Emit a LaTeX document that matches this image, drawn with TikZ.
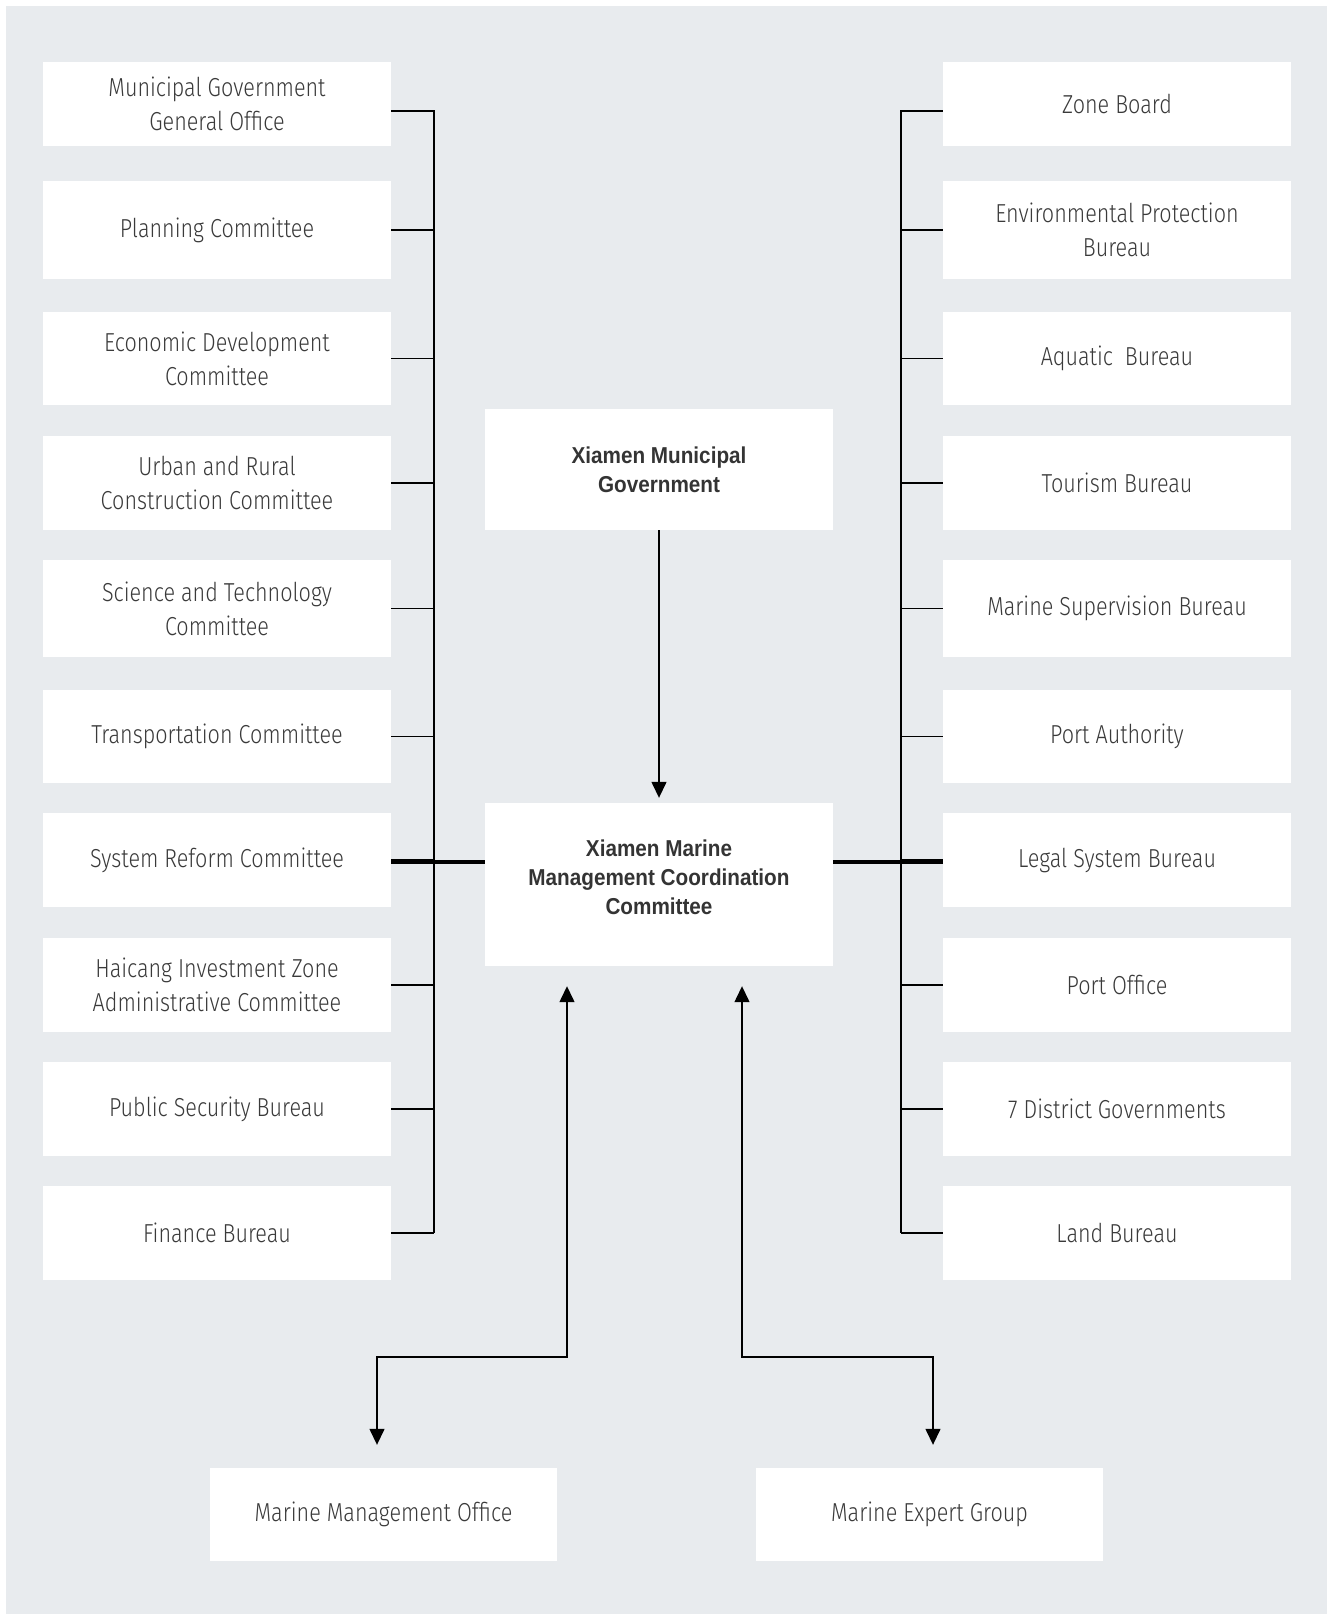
\documentclass[tikz,border=0pt]{standalone}
\usepackage{fontspec}
\setmainfont{Fira Sans Light}[FakeStretch=0.83]
\newfontfamily\headfont{Liberation Sans}[FakeStretch=0.9]
\usetikzlibrary{arrows.meta}
\definecolor{panel}{HTML}{E8EBEE}
\definecolor{ink}{HTML}{3A3A3A}

\begin{document}
\begin{tikzpicture}
        [x=1pt, y=-1pt,
        %%%%%%%%%%%%%%%%%%%%%%%%%%%%%%
        unit/.style={fill=white, text=ink, minimum width=348pt, inner sep=0pt,
          align=center, font=\fontsize{26}{34}\selectfont},
        headbox/.style={unit, font=\headfont\bfseries\fontsize{23}{29}\selectfont, text=ink!90!black},
        link/.style={line width=1.4pt},
        bus/.style={line width=3.4pt},
        flow/.style={link, -{Triangle[width=15pt,length=16pt]}},
        twoway/.style={link, {Triangle[width=15pt,length=16pt]}-{Triangle[width=15pt,length=16pt]}},
        ]%%%%%%%%%%%%%%%%%%%%%%%%%%%%%%
        \useasboundingbox (0,0) rectangle (1329,1614);
        \fill[panel] (6,6) rectangle (1327,1614);
        % left column
        \foreach \id/\yc/\hgt/\txt in {
            1/104/84/{Municipal Government\\General Office},
            2/230/98/{Planning Committee},
            3/358.5/93/{Economic Development\\Committee},
            4/483/94/{Urban and Rural\\Construction Committee},
            5/608.5/97/{Science and Technology\\Committee},
            6/736.5/93/{Transportation Committee},
            7/860/94/{System Reform Committee},
            8/985/94/{Haicang Investment Zone\\Administrative Committee},
            9/1109/94/{Public Security Bureau},
            10/1233/94/{Finance Bureau}}{
          \node[unit, minimum height=\hgt pt] (l\id) at (217,\yc) {\txt};
        }
        % right column
        \foreach \id/\yc/\hgt/\txt in {
            1/104/84/{Zone Board},
            2/230/98/{Environmental Protection\\Bureau},
            3/358.5/93/{Aquatic\ \ Bureau},
            4/483/94/{Tourism Bureau},
            5/608.5/97/{Marine Supervision Bureau},
            6/736.5/93/{Port Authority},
            7/860/94/{Legal System Bureau},
            8/985/94/{Port Office},
            9/1109/94/{7 District Governments},
            10/1233/94/{Land Bureau}}{
          \node[unit, minimum height=\hgt pt] (r\id) at (1117,\yc) {\txt};
        }
        % centre
        \node[unit, minimum height=121pt] (gov) at (659,469.5) {};
        \node[headbox, fill=none] (govtext) at (gov.center) {Xiamen Municipal\\Government};
        \node[unit, minimum height=163pt] (mmcc) at (659,884.5) {};
        \node[headbox, fill=none] (mmcctext) at ([yshift=7.5pt]mmcc.center)
          {Xiamen Marine\\Management Coordination\\Committee};
        \node[unit, minimum width=347pt, minimum height=93pt] (mmo) at (383.5,1514.5) {Marine Management Office};
        \node[unit, minimum width=347pt, minimum height=93pt] (meg) at (929.5,1514.5) {Marine Expert Group};
        % buses
        \coordinate (lbus) at (434,0);
        \coordinate (rbus) at (901,0);
        \draw[link] ([yshift=-7pt]l1.east) -- ([yshift=-7pt]l1.east -| lbus) -- (l10.east -| lbus);
        \draw[link] ([yshift=-7pt]r1.west) -- ([yshift=-7pt]r1.west -| rbus) -- (r10.west -| rbus);
        \foreach \i in {2,...,10}{
          \draw[link] (l\i.east) -- (l\i.east -| lbus);
          \draw[link] (r\i.west) -- (r\i.west -| rbus);
        }
        \draw[bus] ([yshift=-2pt]l7.east) -- ([yshift=-2pt]l7.east -| mmcc.west);
        \draw[bus] ([yshift=-2pt]mmcc.east |- r7.west) -- ([yshift=-2pt]r7.west);
        % arrows
        \draw[flow, shorten >=5pt] (gov.south) -- (mmcc.north);
        \coordinate (turn) at (0,1357);
        \draw[twoway, shorten <=20pt, shorten >=23pt] ([xshift=-92pt]mmcc.south)
          -- ([xshift=-92pt]mmcc.south |- turn) -- ([xshift=-6.5pt]mmo.north |- turn) -- ([xshift=-6.5pt]mmo.north);
        \draw[twoway, shorten <=20pt, shorten >=23pt] ([xshift=83pt]mmcc.south)
          -- ([xshift=83pt]mmcc.south |- turn) -- ([xshift=3.5pt]meg.north |- turn) -- ([xshift=3.5pt]meg.north);
\end{tikzpicture}
\end{document}
